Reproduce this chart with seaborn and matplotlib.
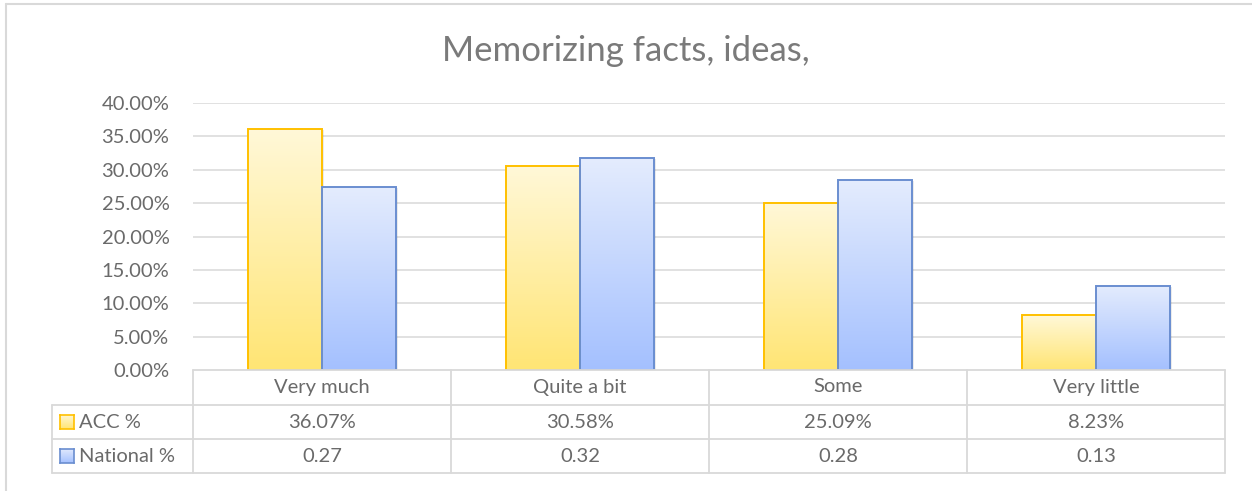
import numpy as np
import pandas as pd
import seaborn as sns
import matplotlib.pyplot as plt
from matplotlib.colors import LinearSegmentedColormap
from matplotlib.patches import Rectangle
from matplotlib.lines import Line2D

# data
categories = ['Very much', 'Quite a bit', 'Some', 'Very little']
series = ['ACC %', 'National %']
acc_values = [0.3607, 0.3058, 0.2509, 0.0823]
national_values = [0.274, 0.317, 0.284, 0.126]
yticks = [0, 0.05, 0.10, 0.15, 0.20, 0.25, 0.30, 0.35, 0.40]

df = pd.DataFrame({
    'category': categories * 2,
    'series': [series[0]] * 4 + [series[1]] * 4,
    'value': acc_values + national_values,
})

sns.set_style('white')
plt.rcParams['font.family'] = ['Lato', 'DejaVu Sans']

W, H = 1252, 491
fig = plt.figure(figsize=(W / 100, H / 100), dpi=100)
ax = fig.add_axes([193 / W, 1 - 370 / H, (1225 - 193) / W, (370 - 103) / H])

sns.barplot(data=df, x='category', y='value', hue='series', order=categories,
            hue_order=series, width=0.574, gap=0, ax=ax, legend=False,
            palette=['#FFEB8A', '#B4CCFF'], saturation=1)

grey = '#6a6a6a'
fs = 14.5
edge = {'ACC %': '#FFC000', 'National %': '#6A8ED0'}
grads = {
    'ACC %': LinearSegmentedColormap.from_list('y', ['#FFE574', '#FFF8D8']),
    'National %': LinearSegmentedColormap.from_list('b', ['#A4C0FF', '#E4ECFD']),
}
grad = np.linspace(0, 1, 256).reshape(-1, 1)

for container, name in zip(ax.containers, series):
    for bar in container:
        x0, w, h = bar.get_x(), bar.get_width(), bar.get_height()
        # soft shadow
        ax.add_patch(Rectangle((x0 + 0.006, -0.001), w, h, facecolor='#000000',
                               alpha=0.08, edgecolor='none', zorder=1.5))
        bar.set_facecolor('none')
        bar.set_edgecolor(edge[name])
        bar.set_linewidth(1.4)
        bar.set_zorder(3)
        ax.imshow(grad, cmap=grads[name], origin='lower', aspect='auto',
                  extent=(x0, x0 + w, 0, h), zorder=2)

ax.set_xlim(-0.5, 3.5)
ax.set_ylim(0, 0.40)
ax.set_yticks(yticks)
ax.set_yticklabels([f'{v * 100:.2f}%' for v in yticks], color=grey, fontsize=fs)
ax.set_xticks([])
ax.set_xlabel('')
ax.set_ylabel('')
ax.tick_params(axis='y', length=0, pad=17)
for s in ax.spines.values():
    s.set_visible(False)
for v in yticks[1:]:
    ax.axhline(v, color='#D9D9D9', lw=1.1, zorder=0)

fig.text(0.5, 1 - 51 / H, 'Memorizing facts, ideas,', ha='center', va='center',
         color='#7a7a7a', fontsize=25)

# data table under the plot
line_c = '#D9D9D9'
def px(x, y):
    return x / W, 1 - y / H

col_edges = [193, 451, 709, 967, 1225]
rows_y = [370, 405, 439, 473]
fig.add_artist(Line2D(*zip(px(193, 370), px(1225, 370)), color=line_c, lw=1.3))
for y in rows_y[1:]:
    fig.add_artist(Line2D(*zip(px(52, y), px(1225, y)), color=line_c, lw=1.3))
for x in col_edges:
    fig.add_artist(Line2D(*zip(px(x, 370), px(x, 473)), color=line_c, lw=1.3))
fig.add_artist(Line2D(*zip(px(52, 405), px(52, 473)), color=line_c, lw=1.3))

for i, cat in enumerate(categories):
    cx = (col_edges[i] + col_edges[i + 1]) / 2
    fig.text(*px(cx, 387), cat, ha='center', va='center', color=grey, fontsize=fs)
    fig.text(*px(cx, 422), f'{acc_values[i] * 100:.2f}%', ha='center', va='center',
             color=grey, fontsize=fs)
    fig.text(*px(cx, 456), f'{national_values[i]:.2f}', ha='center', va='center',
             color=grey, fontsize=fs)

for name, yc in zip(series, [422, 456]):
    kx, ky = px(60, yc + 7)
    key_ax = fig.add_axes([kx, ky, 14 / W, 14 / H])
    key_ax.imshow(grad, cmap=grads[name], origin='lower', aspect='auto',
                  extent=(0, 1, 0, 1))
    key_ax.set_xticks([])
    key_ax.set_yticks([])
    for s in key_ax.spines.values():
        s.set_color(edge[name])
        s.set_linewidth(1.2)
    fig.text(*px(79, yc), name, ha='left', va='center', color=grey, fontsize=fs)

# chart frame
fig.add_artist(Line2D(*zip(px(6, 4), px(1252, 4)), color='#D9D9D9', lw=1.5))
fig.add_artist(Line2D(*zip(px(6, 4), px(6, 491)), color='#D9D9D9', lw=1.5))

fig.savefig('out.png', dpi=100)
